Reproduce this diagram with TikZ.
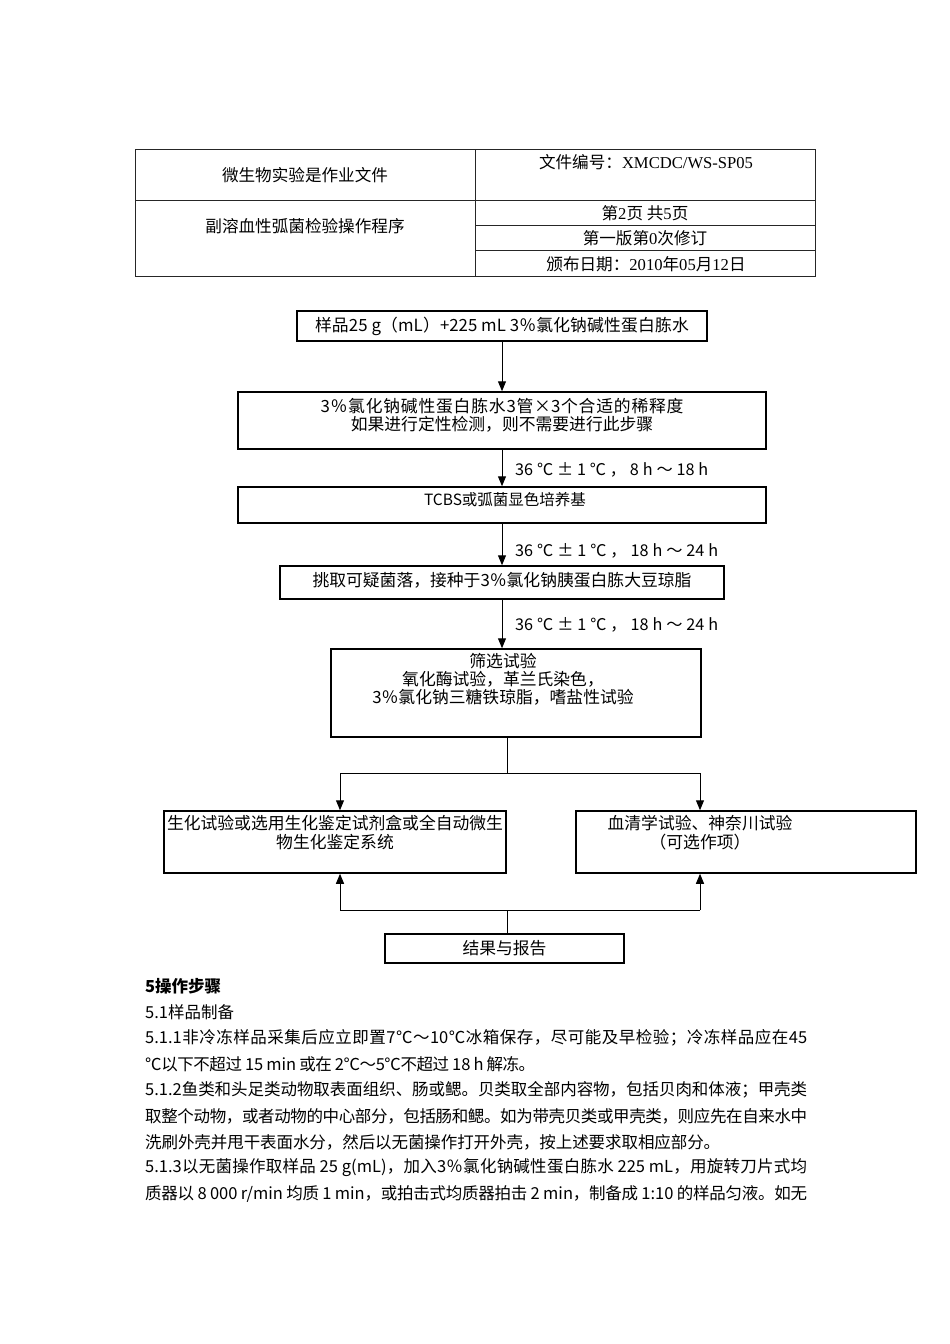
\documentclass[tikz,border=0pt]{standalone}
\usepackage{fontspec}
\setmainfont{Noto Sans CJK SC}
\newfontfamily\lat{Liberation Serif}
\usetikzlibrary{arrows.meta}
\newcount\mycc
\mycc="4E00 \loop \XeTeXcharclass\mycc=7 \advance\mycc by 1 \ifnum\mycc<"A000 \repeat
\mycc="3000 \loop \XeTeXcharclass\mycc=7 \advance\mycc by 1 \ifnum\mycc<"3040 \repeat
\mycc="FF00 \loop \XeTeXcharclass\mycc=7 \advance\mycc by 1 \ifnum\mycc<"FFF0 \repeat
\XeTeXcharclass"2103=7
\def\jg{\hskip 0pt plus 3pt minus 0.8pt\relax}
\XeTeXinterchartoks 0 7 = {\jg}
\XeTeXinterchartoks 7 0 = {\jg}
\XeTeXinterchartoks 7 7 = {\jg}
\newcommand\just[2]{\hbox to #1{\XeTeXinterchartokenstate=1\relax #2}}
\tikzset{
  box/.style={draw, line width=1.5pt, inner sep=0pt},
  flowtxt/.style={font=\fontsize{16.8}{18}\selectfont, inner sep=0pt, align=center},
  conn/.style={line width=1pt, -{Triangle[length=10pt,width=8pt]}},
  plainline/.style={line width=1pt},
  tabline/.style={line width=0.9pt, draw=black!85},
  tabtxt/.style={font=\fontsize{16.6}{18}\selectfont, inner sep=0pt},
  condtxt/.style={font=\fontsize{16.2}{18}\selectfont, inner sep=0pt, anchor=west},
  body/.style={font=\fontsize{16.5}{20}\selectfont, inner sep=0pt, anchor=west},
}
\begin{document}
\begin{tikzpicture}[x=1pt,y=-1pt]
\useasboundingbox (0,0) rectangle (950,1344);
\fill[white] (0,0) rectangle (950,1344);
% header table
\draw[tabline] (135,149) rectangle (815,276);
\draw[tabline] (475,149) -- (475,276);
\draw[tabline] (135,200) -- (815,200);
\draw[tabline] (475,225) -- (815,225);
\draw[tabline] (475,250) -- (815,250);
\node[tabtxt] (h1) at (305,175) {微生物实验是作业文件};
\node[tabtxt] (h2) at (646,162) {文件编号：{\lat XMCDC/WS-SP05}};
\node[tabtxt] (h3) at (305,226) {副溶血性弧菌检验操作程序};
\node[tabtxt] (h4) at (645,213) {第{\lat 2}页 共{\lat 5}页};
\node[tabtxt] (h5) at (645,238) {第一版第{\lat 0}次修订};
\node[tabtxt] (h6) at (646,264) {颁布日期：{\lat 2010}年{\lat 05}月{\lat 12}日};
% flow boxes
\node[box, minimum width=410pt, minimum height=30pt, flowtxt] (b1) at (502,326) {\just{374pt}{样品25 g（mL）+225 mL 3％氯化钠碱性蛋白胨水}};
\node[box, minimum width=528pt, minimum height=57pt] (b2) at (502,420.5) {};
\node[flowtxt] (t2) at (502,415) {\just{363pt}{3％氯化钠碱性蛋白胨水3管×3个合适的稀释度}\\如果进行定性检测，则不需要进行此步骤};
\node[box, minimum width=528pt, minimum height=36pt] (b3) at (502,505) {};
\node[flowtxt, font=\fontsize{15.5}{18}\selectfont] (t3) at (505,500) {TCBS或弧菌显色培养基};
\node[box, minimum width=444pt, minimum height=33pt] (b4) at (502,582.5) {};
\node[flowtxt] (t4) at (502,580) {\just{379pt}{挑取可疑菌落，接种于3％氯化钠胰蛋白胨大豆琼脂}};
\node[box, minimum width=370pt, minimum height=88pt] (b5) at (516,693) {};
\node[flowtxt] (t5) at (503,679) {筛选试验\\氧化酶试验，革兰氏染色，\\3％氯化钠三糖铁琼脂，嗜盐性试验};
\node[box, minimum width=342pt, minimum height=62pt] (b6) at (335,842) {};
\node[flowtxt, font=\fontsize{16.8}{19}\selectfont] (t6) at (335,832.5) {生化试验或选用生化鉴定试剂盒或全自动微生\\物生化鉴定系统};
\node[box, minimum width=340pt, minimum height=62pt] (b7) at (746,842) {};
\node[flowtxt, font=\fontsize{16.8}{19}\selectfont] (t7) at (700,832.5) {血清学试验、神奈川试验\\（可选作项）};
\node[box, minimum width=239pt, minimum height=29pt, flowtxt] (b8) at (504.5,948.5) {结果与报告};
% conditions
\node[condtxt] (c1) at (515,470) {\just{193pt}{36 ℃ ± 1 ℃ ， 8 h ～ 18 h}};
\node[condtxt] (c2) at (515,551) {\just{203pt}{36 ℃ ± 1 ℃ ， 18 h ～ 24 h}};
\node[condtxt] (c3) at (515,625) {\just{203pt}{36 ℃ ± 1 ℃ ， 18 h ～ 24 h}};
% connectors
\draw[conn] (b1.south) -- (b2.north);
\draw[conn] (b2.south) -- (b3.north);
\draw[conn] (b3.south) -- (b4.north);
\draw[conn] (b4.south) -- (b4.south |- b5.north);
\coordinate (j1) at (507,773);
\coordinate (jL) at (340,773);
\coordinate (jR) at (700,773);
\draw[plainline] (j1 |- b5.south) -- (j1);
\draw[plainline] (jL) -- (jR);
\draw[conn] (jL) -- (jL |- b6.north);
\draw[conn] (jR) -- (jR |- b7.north);
\coordinate (k1) at (507,910);
\coordinate (kL) at (340,910);
\coordinate (kR) at (700,910);
\draw[plainline] (k1 |- b8.north) -- (k1);
\draw[plainline] (kL) -- (kR);
\draw[conn] (kL) -- (kL |- b6.south);
\draw[conn] (kR) -- (kR |- b7.south);
% body text
\node[body, font=\fontsize{16.5}{20}\selectfont\bfseries] (p0) at (145,986) {5操作步骤};
\node[body] (p1) at (145,1012) {5.1样品制备};
\node[body] (p2) at (145,1038) {\just{662pt}{5.1.1非冷冻样品采集后应立即置7℃～10℃冰箱保存，尽可能及早检验；冷冻样品应在45}};
\node[body] (p3) at (145,1064) {\just{390pt}{℃以下不超过 15 min 或在 2℃～5℃不超过 18 h 解冻。}};
\node[body] (p4) at (145,1090) {\just{662pt}{5.1.2鱼类和头足类动物取表面组织、肠或鳃。贝类取全部内容物，包括贝肉和体液；甲壳类}};
\node[body] (p5) at (145,1116) {\just{662pt}{取整个动物，或者动物的中心部分，包括肠和鳃。如为带壳贝类或甲壳类，则应先在自来水中}};
\node[body] (p6) at (145,1142) {\just{575pt}{洗刷外壳并甩干表面水分，然后以无菌操作打开外壳，按上述要求取相应部分。}};
\node[body] (p7) at (145,1168) {\just{662pt}{5.1.3以无菌操作取样品 25 g(mL)，加入3％氯化钠碱性蛋白胨水 225 mL，用旋转刀片式均}};
\node[body] (p8) at (145,1194) {\just{662pt}{质器以 8 000 r/min 均质 1 min，或拍击式均质器拍击 2 min，制备成 1:10 的样品匀液。如无}};
\end{tikzpicture}
\end{document}
